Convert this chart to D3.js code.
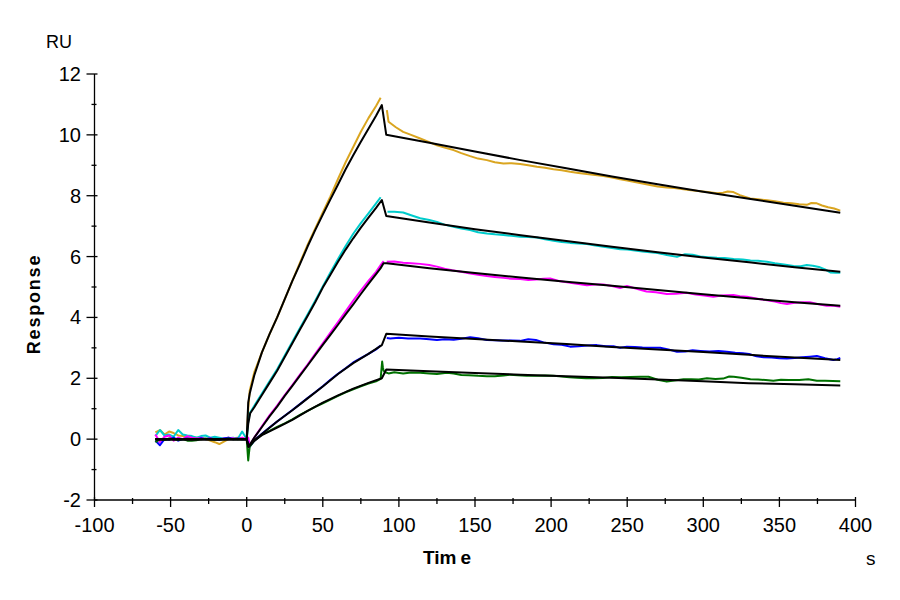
<!DOCTYPE html>
<html>
<head>
<meta charset="utf-8">
<script src="https://cdn.jsdelivr.net/npm/d3@7"></script>
<style>
  html, body { margin: 0; padding: 0; background: #ffffff; }
  svg { display: block; }
  text { font-family: Arial, "Liberation Sans", sans-serif; fill: #000; }
</style>
</head>
<body>
<svg id="chart" width="900" height="600"></svg>
<script>
// ---------- axis ticks ----------
const xTicks = [-100, -50, 0, 50, 100, 150, 200, 250, 300, 350, 400];
const yTicks = [-2, 0, 2, 4, 6, 8, 10, 12];

// ---------- series colours (by analyte concentration, high -> low) ----------
const seriesNames = ["orange", "cyan", "magenta", "blue", "green"];
const seriesColors = ["#DAA520", "#00CCCC", "#FF00FF", "#0000FF", "#007000"];

// ---------- baseline (measured, t = -60 ... -3 s) ----------
const baseT = [-60,-57,-54,-51,-48,-45,-42,-39,-36,-33,-30,-27,-24,-21,-18,-15,-12,-9,-6,-3];
const baseOrange  = [0.22,0.3,0.15,0.25,0.2,0.12,0.1,0.08,0.06,0.05,0.03,0.0,-0.05,-0.1,-0.16,-0.08,0.0,0.03,0.05,0.02];
const baseCyan    = [0.1,0.3,0.12,0.15,0.08,0.3,0.15,0.12,0.1,0.05,0.1,0.12,0.05,0.08,0.05,0.02,0.03,0.05,0.0,0.25];
const baseMagenta = [0.15,-0.1,0.08,0.12,-0.05,0.05,0.0,0.1,0.05,0.02,0.05,0.0,0.03,-0.02,0.0,0.02,0.05,0.03,0.0,0.05];
const baseBlue    = [-0.05,-0.2,0.0,-0.02,0.05,-0.05,0.0,0.02,0.0,-0.02,0.03,0.0,0.02,0.0,-0.03,0.02,0.05,0.0,0.02,0.0];
const baseGreen   = [-0.1,0.0,-0.03,0.02,0.0,-0.02,0.0,-0.05,-0.05,-0.04,0.0,0.02,0.0,-0.02,0.0,0.0,0.02,0.0,0.0,0.0];

// ---------- association phase (measured) [t, RU] ----------
const assocOrange = [[0,0],[1,1.0],[2,1.6],[5,2.2],[10,2.85],[15,3.45],[20,4.0],[25,4.6],[30,5.2],[35,5.8],[40,6.38],[45,6.92],[50,7.45],[55,7.98],[60,8.55],[65,9.1],[70,9.6],[75,10.1],[80,10.55],[85,10.95],[88,11.22]];
const assocCyan = [[0,0],[1,0.6],[2,0.85],[5,1.1],[10,1.5],[15,1.9],[20,2.3],[25,2.75],[30,3.2],[35,3.65],[40,4.1],[45,4.55],[50,5.02],[55,5.48],[60,5.92],[65,6.35],[70,6.75],[75,7.1],[80,7.42],[85,7.75],[88,7.95]];
const assocMagenta = [[0,0],[1,0.05],[2,-0.2],[5,0.05],[10,0.42],[15,0.78],[20,1.1],[25,1.45],[30,1.78],[35,2.12],[40,2.45],[45,2.8],[50,3.15],[55,3.5],[60,3.85],[65,4.2],[70,4.55],[75,4.88],[80,5.2],[85,5.5],[88,5.72],[90,5.85]];
const assocBlue = [[0,0],[1,-0.15],[2,-0.25],[5,-0.05],[10,0.18],[15,0.38],[20,0.58],[25,0.77],[30,0.96],[35,1.15],[40,1.35],[45,1.54],[50,1.74],[55,1.95],[60,2.15],[65,2.33],[70,2.52],[75,2.66],[80,2.8],[85,2.95],[88,3.08]];
const assocGreen = [[0,0],[1,-0.7],[1.5,-0.45],[2,-0.25],[5,-0.05],[10,0.15],[15,0.27],[20,0.4],[25,0.52],[30,0.65],[35,0.8],[40,0.93],[45,1.06],[50,1.18],[55,1.3],[60,1.42],[65,1.54],[70,1.64],[75,1.74],[80,1.83],[85,1.9],[88,1.98],[89,2.55],[89.5,2.35],[90,2.25]];

// ---------- dissociation phase (measured) [t, RU] ----------
const dissOrange = [[92.1,10.81],[93.2,10.43],[98,10.25],[102.8,10.1],[108,10.0],[114,9.88],[120,9.76],[125,9.66],[130,9.58],[135.9,9.5],[141,9.4],[146.8,9.3],[152,9.22],[157.8,9.17],[163,9.1],[168.7,9.06],[174,9.07],[179.7,9.04],[185,9.0],[190.7,8.95],[196,8.92],[201.6,8.87],[207,8.84],[212.5,8.79],[218,8.75],[223.5,8.71],[229,8.68],[234.4,8.65],[240,8.6],[245.4,8.54],[250,8.5],[255,8.45],[260,8.4],[265,8.35],[270,8.3],[276,8.27],[281,8.25],[287,8.21],[292,8.18],[298,8.15],[303,8.12],[309,8.08],[313,8.1],[316,8.14],[319.8,8.12],[324,8.02],[330.8,7.91],[336,7.88],[342,7.85],[347,7.82],[352.7,7.77],[358,7.75],[363,7.72],[368,7.7],[371,7.76],[374.6,7.75],[378,7.68],[382,7.62],[386,7.58],[390,7.51]];
const dissCyan = [[92.5,7.47],[97,7.47],[102.8,7.45],[108,7.36],[114,7.26],[120,7.2],[125,7.14],[130,7.05],[135.9,6.98],[141,6.92],[146.8,6.87],[152,6.8],[157.8,6.76],[163,6.73],[168.7,6.71],[174,6.68],[179.7,6.65],[185,6.64],[190.7,6.63],[196,6.57],[201.6,6.52],[207,6.48],[212.5,6.45],[218,6.43],[223.5,6.41],[229,6.36],[234.4,6.32],[240,6.28],[245.4,6.24],[250,6.23],[255,6.2],[260,6.17],[265,6.14],[270,6.12],[276,6.05],[282.7,5.99],[288,6.08],[293,6.06],[298,6.0],[303,5.98],[309,5.96],[314,5.95],[320,5.92],[326,5.9],[331,5.87],[336,5.86],[341.8,5.83],[347,5.78],[353,5.74],[359.3,5.69],[364,5.68],[368,5.72],[372,5.7],[376,5.66],[380,5.58],[383.4,5.48],[387,5.47],[390,5.47]];
const dissMagenta = [[92,5.83],[97,5.84],[102.8,5.8],[108,5.78],[114,5.76],[120,5.72],[125,5.67],[130,5.6],[135,5.55],[141,5.5],[146,5.45],[152,5.4],[157.8,5.36],[163,5.33],[168.7,5.3],[174,5.27],[179.7,5.26],[185,5.23],[190,5.25],[195,5.27],[199.4,5.28],[205,5.2],[212.5,5.14],[218,5.1],[223.5,5.06],[229,5.08],[234.4,5.08],[240,5.03],[245.4,4.97],[249.8,5.03],[255,4.96],[262.7,4.85],[269,4.83],[276,4.77],[282,4.78],[289,4.81],[295,4.75],[300.6,4.72],[306.6,4.68],[312,4.72],[319.8,4.74],[324,4.7],[328.6,4.68],[333,4.64],[337.4,4.6],[342,4.56],[347,4.52],[351,4.47],[355,4.44],[360,4.48],[366,4.5],[370,4.5],[375,4.44],[381,4.38],[386,4.38],[390,4.35]];
const dissBlue = [[92,3.32],[94.3,3.31],[100,3.33],[106,3.31],[114,3.31],[120,3.28],[125,3.26],[130,3.28],[136,3.27],[141,3.3],[146.8,3.35],[152,3.32],[157.8,3.26],[163,3.25],[168,3.24],[174,3.24],[179.7,3.23],[185,3.28],[190,3.26],[195,3.18],[201.6,3.12],[207,3.1],[212.5,3.04],[218,3.05],[224,3.08],[230,3.09],[236,3.05],[241,3.05],[245.4,3.0],[249.8,3.04],[255,3.03],[260,3.01],[265,3.0],[271.7,3.0],[277,2.95],[282.7,2.87],[288,2.88],[293,2.92],[298,2.9],[304,2.88],[310,2.9],[315.5,2.87],[321,2.84],[326,2.82],[330,2.8],[335,2.72],[339.6,2.69],[345,2.68],[350,2.66],[354.9,2.65],[360,2.67],[365,2.69],[370,2.71],[374.6,2.73],[380,2.66],[385.5,2.6],[388,2.63],[390,2.67]];
const dissGreen = [[91,2.2],[93.2,2.16],[97,2.2],[102.8,2.16],[108,2.19],[114,2.18],[120,2.16],[125,2.14],[131.5,2.18],[136,2.16],[141,2.11],[146,2.1],[152,2.08],[157.8,2.07],[163,2.07],[168.7,2.09],[173,2.12],[178,2.1],[184,2.08],[190.7,2.08],[196,2.09],[201.6,2.08],[207,2.06],[212,2.03],[217,2.02],[223,2.0],[228,2.0],[234,2.01],[240,2.04],[246,2.03],[252,2.04],[258.5,2.05],[264,2.05],[270,1.95],[276,1.89],[281,1.93],[287,1.97],[292,1.97],[297,1.96],[302.4,2.0],[308,1.98],[313,1.99],[317,2.06],[320,2.05],[325,2.02],[331,1.97],[336,1.96],[341,1.94],[346,1.92],[351,1.95],[356,1.94],[363,1.94],[369,1.97],[374.6,1.92],[380,1.92],[385,1.91],[390,1.9]];

// ---------- global fits (black) [t, RU] ----------
const fitOrange = [[-60,0],[0,0],[1,1.2],[2,1.5],[5,2.1],[10,2.85],[15,3.45],[20,4.0],[25,4.6],[30,5.2],[35,5.75],[40,6.33],[45,6.87],[50,7.38],[55,7.88],[60,8.37],[65,8.87],[70,9.33],[75,9.77],[80,10.2],[85,10.63],[88.8,10.98],[91.7,10.0],[120,9.74],[150,9.45],[180,9.17],[210,8.9],[240,8.63],[270,8.38],[300,8.13],[330,7.9],[360,7.67],[390,7.44]];
const fitCyan = [[-60,0],[0,0],[1,0.5],[2.3,0.85],[5,1.05],[10,1.45],[15,1.85],[20,2.25],[25,2.7],[30,3.15],[35,3.6],[40,4.05],[45,4.5],[50,4.98],[55,5.4],[60,5.83],[65,6.23],[70,6.6],[75,6.95],[80,7.28],[85,7.6],[88.8,7.86],[91.7,7.33],[120,7.12],[150,6.9],[180,6.7],[210,6.51],[240,6.32],[270,6.14],[300,5.97],[330,5.81],[360,5.65],[390,5.5]];
const fitMagenta = [[-60,0],[0,0],[1.2,-0.25],[5,0.05],[10,0.4],[15,0.75],[20,1.07],[25,1.42],[30,1.75],[35,2.09],[40,2.42],[45,2.76],[50,3.1],[55,3.43],[60,3.76],[65,4.1],[70,4.43],[75,4.77],[80,5.1],[85,5.42],[88,5.62],[89.9,5.78],[92,5.78],[120,5.62],[150,5.46],[180,5.31],[210,5.17],[240,5.04],[270,4.9],[300,4.76],[330,4.63],[360,4.5],[390,4.38]];
const fitBlue = [[-60,0],[0,0],[1.2,-0.25],[5,-0.05],[10,0.17],[20,0.58],[30,0.95],[40,1.34],[50,1.73],[60,2.14],[70,2.5],[80,2.8],[88.8,3.09],[91.7,3.46],[120,3.37],[150,3.29],[180,3.21],[210,3.13],[240,3.03],[270,2.95],[300,2.86],[330,2.77],[360,2.68],[390,2.6]];
const fitGreen = [[-60,0],[0,0],[1.2,-0.25],[5,-0.05],[10,0.13],[20,0.38],[30,0.63],[40,0.93],[50,1.2],[60,1.44],[70,1.66],[80,1.85],[88.8,2.0],[91.7,2.29],[120,2.23],[150,2.17],[180,2.12],[210,2.07],[240,2.02],[270,1.96],[300,1.9],[330,1.84],[360,1.8],[390,1.76]];

// ---------- assemble ----------
const baseVals = [baseOrange, baseCyan, baseMagenta, baseBlue, baseGreen];
const assocVals = [assocOrange, assocCyan, assocMagenta, assocBlue, assocGreen];
const dissVals = [dissOrange, dissCyan, dissMagenta, dissBlue, dissGreen];
const fits = [fitOrange, fitCyan, fitMagenta, fitBlue, fitGreen];
const continuousTrace = [false, false, false, false, true];

const svg = d3.select("#chart");
const x = d3.scaleLinear().domain([-100, 400]).range([94.5, 855.5]);
const y = d3.scaleLinear().domain([-2, 12]).range([500, 74]);

const line = d3.line().x(d => x(d[0])).y(d => y(d[1]));

const plot = svg.append("g");

// measured curves
seriesNames.forEach((name, i) => {
  const first = baseT.map((t, k) => [t, baseVals[i][k]]).concat(assocVals[i]);
  const segs = continuousTrace[i] ? [first.concat(dissVals[i])] : [first, dissVals[i]];
  segs.forEach(seg => {
    plot.append("path")
      .attr("d", line(seg))
      .attr("fill", "none")
      .attr("stroke", seriesColors[i])
      .attr("stroke-width", 2)
      .attr("stroke-linejoin", "round");
  });
});

// fits
fits.forEach(f => {
  plot.append("path")
    .attr("d", line(f))
    .attr("fill", "none")
    .attr("stroke", "#000")
    .attr("stroke-width", 2)
    .attr("stroke-linejoin", "round");
});

// ---------- axes ----------
const axes = svg.append("g").attr("stroke", "#000").attr("stroke-width", 1.3);
axes.append("line").attr("x1", x(-100)).attr("x2", x(400)).attr("y1", y(-2)).attr("y2", y(-2));
axes.append("line").attr("x1", x(-100)).attr("x2", x(-100)).attr("y1", y(-2)).attr("y2", y(12));

xTicks.forEach(t => {
  axes.append("line").attr("x1", x(t)).attr("x2", x(t)).attr("y1", y(-2) - 3).attr("y2", y(-2) + 7);
});
xTicks.slice(0, -1).forEach(t => {
  const m = t + 25;
  axes.append("line").attr("x1", x(m)).attr("x2", x(m)).attr("y1", y(-2) - 2).attr("y2", y(-2) + 4);
});
yTicks.forEach(v => {
  axes.append("line").attr("x1", x(-100) - 8).attr("x2", x(-100) + 3).attr("y1", y(v)).attr("y2", y(v));
});
yTicks.slice(0, -1).forEach(v => {
  const m = v + 1;
  axes.append("line").attr("x1", x(-100) - 3).attr("x2", x(-100) + 2).attr("y1", y(m)).attr("y2", y(m));
});

// tick labels
const labels = svg.append("g").style("font-size", "20px");
xTicks.forEach(t => {
  labels.append("text").attr("x", x(t)).attr("y", 532).attr("text-anchor", "middle").text(t);
});
yTicks.forEach(v => {
  labels.append("text").attr("x", 81).attr("y", y(v) + 7).attr("text-anchor", "end").text(v);
});

// axis titles
svg.append("text").attr("x", 46).attr("y", 48).style("font-size", "18px").text("RU");
svg.append("text").attr("x", 866).attr("y", 565).style("font-size", "19px").text("s");
svg.append("text")
  .attr("transform", "translate(40,304) rotate(-90)")
  .attr("text-anchor", "middle")
  .style("font-size", "18px").style("font-weight", "bold").style("letter-spacing", "1.8px")
  .text("Response");
const tt = svg.append("text").attr("x", 423).attr("y", 564)
  .style("font-size", "19px").style("font-weight", "bold");
tt.append("tspan").text("Tim");
tt.append("tspan").attr("dx", 4).text("e");
</script>
</body>
</html>
